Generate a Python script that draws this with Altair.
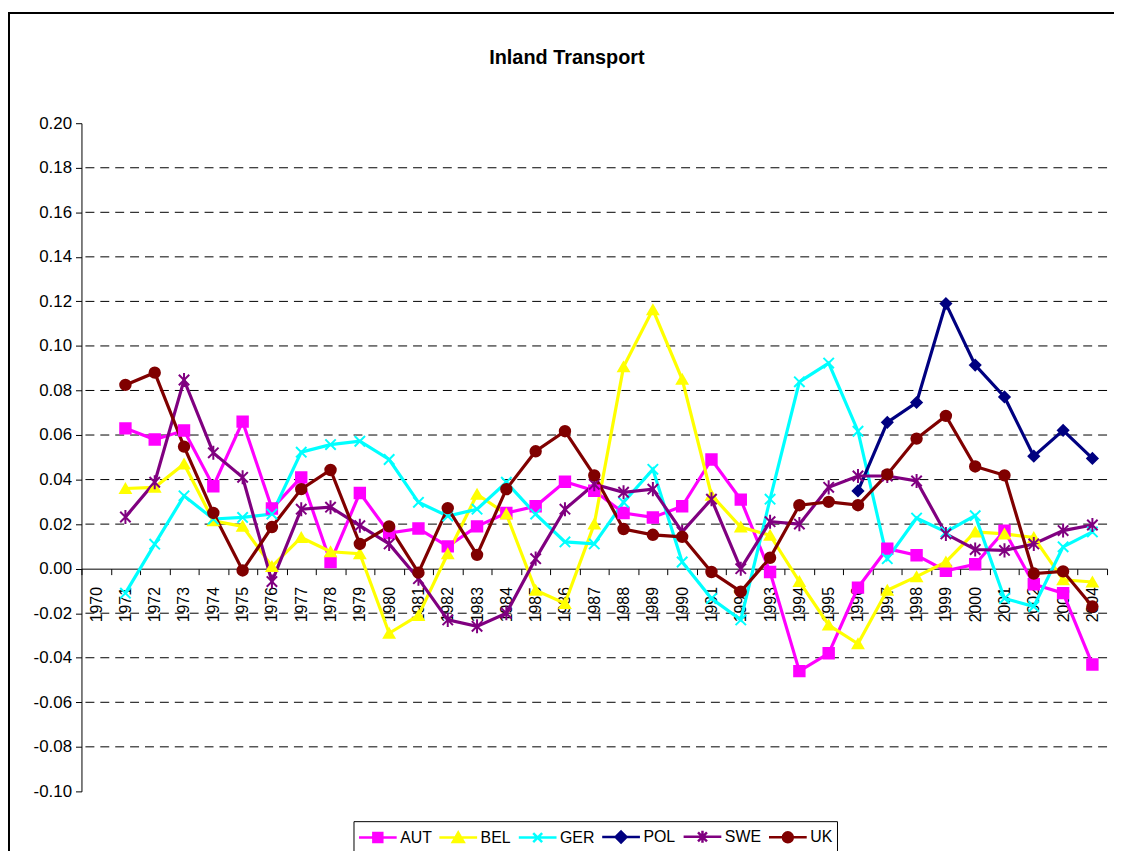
import altair as alt
import pandas as pd

years = [1970, 1971, 1972, 1973, 1974, 1975, 1976, 1977, 1978, 1979,
         1980, 1981, 1982, 1983, 1984, 1985, 1986, 1987, 1988, 1989,
         1990, 1991, 1992, 1993, 1994, 1995, 1996, 1997, 1998, 1999,
         2000, 2001, 2002, 2003, 2004]

AUT = [None, 0.063, 0.058, 0.062, 0.037, 0.066, 0.027, 0.041, 0.003, 0.034,
       0.016, 0.018, 0.010, 0.019, 0.025, 0.028, 0.039, 0.035, 0.025, 0.023,
       0.028, 0.049, 0.031, -0.0015, -0.046, -0.038, -0.0085, 0.009, 0.006, -0.001,
       0.002, 0.017, -0.007, -0.011, -0.043]
BEL = [None, 0.036, 0.0365, 0.047, 0.0215, 0.019, 0.001, 0.014, 0.0076, 0.0067,
       -0.029, -0.021, 0.0067, 0.0334, 0.0245, -0.0097, -0.0156, 0.020, 0.0906, 0.1163,
       0.085, 0.033, 0.0187, 0.015, -0.0058, -0.0253, -0.0337, -0.0097, -0.0036, 0.003,
       0.0165, 0.0156, 0.014, -0.005, -0.006]
GER = [None, -0.011, 0.011, 0.0327, 0.0223, 0.023, 0.0245, 0.0523, 0.0557, 0.0572,
       0.049, 0.0298, 0.0236, 0.0267, 0.0388, 0.0245, 0.012, 0.0111, 0.0298, 0.0446,
       0.003, -0.0134, -0.023, 0.0312, 0.0839, 0.0923, 0.0617, 0.0045, 0.0227, 0.0165,
       0.0238, -0.0134, -0.017, 0.0098, 0.0165]
POL = [None, None, None, None, None, None, None, None, None, None,
       None, None, None, None, None, None, None, None, None, None,
       None, None, None, None, None, None, 0.0349, 0.0657, 0.0746, 0.119,
       0.0914, 0.0771, 0.0505, 0.0621, 0.0495]
SWE = [None, 0.0232, 0.0388, 0.0847, 0.052, 0.041, -0.0058, 0.0267, 0.0276, 0.0193,
       0.0111, -0.0045, -0.023, -0.0259, -0.020, 0.0045, 0.0267, 0.0379, 0.0343, 0.0357,
       0.0165, 0.0312, 0.000, 0.0211, 0.020, 0.0365, 0.0416, 0.0416, 0.0394, 0.0156,
       0.0086, 0.0082, 0.0111, 0.0171, 0.0196]
UK = [None, 0.0825, 0.088, 0.0548, 0.025, -0.0008, 0.0187, 0.0357, 0.0443, 0.0111,
      0.019, -0.0018, 0.0272, 0.0062, 0.0357, 0.0527, 0.0617, 0.0419, 0.0178, 0.0152,
      0.0143, -0.0015, -0.0103, 0.0049, 0.0285, 0.030, 0.0285, 0.0423, 0.0584, 0.0686,
      0.0459, 0.0419, -0.0022, -0.0012, -0.017]

series_names = ["AUT", "BEL", "GER", "POL", "SWE", "UK"]
series_colors = ["#FF00FF", "#FFFF00", "#00FFFF", "#000080", "#800080", "#800000"]
y_ticks = [-0.10, -0.08, -0.06, -0.04, -0.02, 0.00, 0.02, 0.04, 0.06, 0.08,
           0.10, 0.12, 0.14, 0.16, 0.18, 0.20]
grid_values = [-0.08, -0.06, -0.04, -0.02, 0.02, 0.04, 0.06, 0.08,
               0.10, 0.12, 0.14, 0.16, 0.18]
title_text = "Inland Transport"

rows = []
for name, vals in zip(series_names, [AUT, BEL, GER, POL, SWE, UK]):
    for yr, v in zip(years, vals):
        if v is not None:
            rows.append({"year": yr, "value": v, "series": name})
df = pd.DataFrame(rows)

FONT = "Liberation Sans"
W, H = 1033, 673

x_scale = alt.Scale(type="band", domain=years, paddingInner=0, paddingOuter=0)
y_scale = alt.Scale(domain=[-0.10, 0.20], nice=False, zero=False)
color_scale = alt.Scale(domain=series_names, range=series_colors)

marker_shapes = [
    "square",
    "triangle-up",
    "M-1,-1L1,1M-1,1L1,-1",
    "diamond",
    "M-1,-1L1,1M-1,1L1,-1M0,-1.35V1.35",
    "circle",
]
legend_shapes = [
    "M-1.9,0H1.9M-0.45,-0.45H0.45V0.45H-0.45Z",
    "M-1.9,0H1.9M0,-0.5L0.55,0.45L-0.55,0.45Z",
    "M-1.9,0H1.9M-0.45,-0.45L0.45,0.45M-0.45,0.45L0.45,-0.45",
    "M-1.9,0H1.9M0,-0.55L0.55,0L0,0.55L-0.55,0Z",
    "M-1.9,0H1.9M-0.45,-0.45L0.45,0.45M-0.45,0.45L0.45,-0.45M0,-0.6V0.6",
    "M-1.9,0H1.9M0.5,0A0.5,0.5,0,1,1,-0.5,0A0.5,0.5,0,1,1,0.5,0Z",
]

x_axis = alt.Axis(
    title=None, tickBand="extent", labelAngle=-90, labelFontSize=16,
    labelFont=FONT, labelColor="black", labelPadding=12, tickSize=6,
    tickColor="black", domainColor="black", offset=-H / 3, grid=False,
    labelOverlap=False,
)
y_axis = alt.Axis(
    title=None, values=y_ticks, grid=False, tickSize=6, tickColor="black",
    domainColor="black", labelFontSize=17, labelFont=FONT, labelColor="black",
    labelPadding=4, labelOverlap=False,
    labelExpr="datum.value < 0 ? '-' + format(-datum.value, '.2f') : format(datum.value, '.2f')",
)

frame = alt.Chart(pd.DataFrame({"f": [0]})).mark_rect(
    fill="transparent", stroke="black", strokeWidth=2
).encode(
    x=alt.value(-73), x2=alt.value(W + 60), y=alt.value(-111), y2=alt.value(H + 200)
)

title = alt.Chart(pd.DataFrame({"t": [title_text]})).mark_text(
    font=FONT, fontSize=20, fontWeight="bold", color="black",
    align="center", baseline="alphabetic",
).encode(text="t:N", x=alt.value(489), y=alt.value(-60))

grid = alt.Chart(pd.DataFrame({"g": grid_values})).mark_rule(
    color="black", strokeDash=[9, 6], strokeWidth=1
).encode(y=alt.Y("g:Q", scale=y_scale, axis=y_axis))

lines = alt.Chart(df).mark_line(strokeWidth=3.2).encode(
    x=alt.X("year:O", scale=x_scale, axis=x_axis),
    y=alt.Y("value:Q", scale=y_scale, axis=y_axis),
    color=alt.Color("series:N", scale=color_scale, legend=None),
)

points = alt.Chart(df).mark_point(filled=True, size=110, strokeWidth=2, opacity=1).encode(
    x=alt.X("year:O", scale=x_scale, axis=x_axis),
    y=alt.Y("value:Q", scale=y_scale, axis=y_axis),
    fill=alt.Fill("series:N", scale=color_scale, legend=None),
    stroke=alt.Stroke("series:N", scale=color_scale, legend=None),
    shape=alt.Shape("series:N", scale=alt.Scale(domain=series_names, range=marker_shapes), legend=None),
)

leg = alt.Legend(
    title=None, orient="none", legendX=274, legendY=703, direction="horizontal",
    symbolSize=400, symbolStrokeWidth=2.5, symbolOpacity=1, symbolOffset=9,
    labelOffset=11, labelFontSize=16, labelFont=FONT, labelColor="black",
    columnPadding=2, padding=4, strokeColor="black", fillColor="white",
)

legend_layer = alt.Chart(df).mark_point(filled=True, opacity=0).encode(
    x=alt.X("year:O", scale=x_scale, axis=x_axis),
    y=alt.Y("value:Q", scale=y_scale, axis=y_axis),
    fill=alt.Fill("series:N", scale=color_scale, legend=leg),
    stroke=alt.Stroke("series:N", scale=color_scale, legend=leg),
    shape=alt.Shape("series:N", scale=alt.Scale(domain=series_names, range=legend_shapes), legend=leg),
)

chart = alt.layer(frame, title, grid, lines, points, legend_layer).resolve_scale(
    fill="independent", stroke="independent", shape="independent"
).properties(
    width=W, height=H,
    background="white",
    autosize=alt.AutoSizeParams(type="none"),
    padding={"left": 74, "top": 113, "right": 7, "bottom": 57},
).configure_view(stroke="transparent", strokeWidth=0)

chart.save("out.html", embed_options={"renderer": "svg", "actions": False})
